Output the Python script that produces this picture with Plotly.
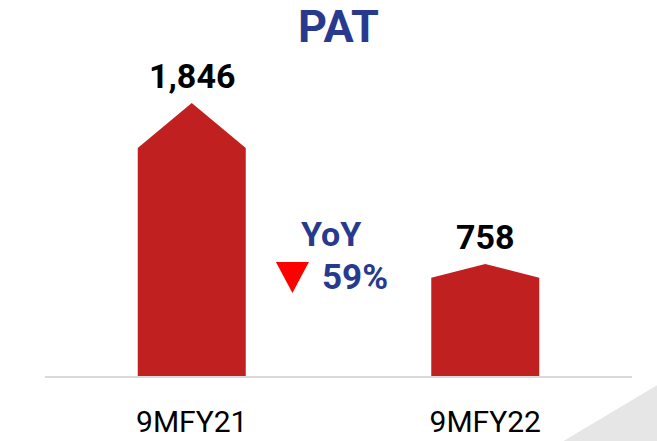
import plotly.graph_objects as go

periods = ["9MFY21", "9MFY22"]
pat = [1846, 758]
yoy_change = "59%"

BAR_RED = "#C0201F"
NAVY = "#283A8E"
HALF_W = 0.184
ROOF = [0.165, 0.124]  # roof height as share of bar height

fig = go.Figure()

for i, (name, val) in enumerate(zip(periods, pat)):
    shoulder = val * (1 - ROOF[i])
    fig.add_trace(
        go.Scatter(
            x=[i - HALF_W, i - HALF_W, i, i + HALF_W, i + HALF_W, i - HALF_W],
            y=[0, shoulder, val, shoulder, 0, 0],
            fill="toself",
            fillcolor=BAR_RED,
            line=dict(width=0, color=BAR_RED),
            mode="lines",
            name=name,
            hoverinfo="skip",
        )
    )
    fig.add_annotation(
        x=i,
        y=val,
        text=f"<b>{val:,}</b>",
        showarrow=False,
        yanchor="middle",
        yshift=27,
        font=dict(family="Roboto", size=34, color="black"),
    )

# YoY callout
fig.add_annotation(
    x=0.474, y=960, xref="x", yref="y",
    text="<b>YoY</b>", showarrow=False,
    font=dict(family="Roboto", size=34, color=NAVY),
)
fig.add_annotation(
    x=0.556, y=669, xref="x", yref="y",
    text=f"<b>{yoy_change}</b>", showarrow=False,
    font=dict(family="Roboto", size=35, color=NAVY),
)

fig.update_layout(
    width=657,
    height=441,
    margin=dict(l=45, r=25, t=60, b=65),
    paper_bgcolor="white",
    plot_bgcolor="white",
    showlegend=False,
    title=dict(
        text="<b>PAT</b>",
        x=0.5,
        xref="paper",
        xanchor="center",
        y=0.94,
        yanchor="middle",
        font=dict(family="Roboto", size=45, color=NAVY),
    ),
    xaxis=dict(
        range=[-0.5, 1.5],
        tickvals=[0, 1],
        ticktext=periods,
        showgrid=False,
        zeroline=False,
        showline=True,
        linecolor="#d9d9d9",
        linewidth=2,
        ticks="outside",
        ticklen=18,
        tickcolor="rgba(0,0,0,0)",
        tickfont=dict(family="Roboto", size=30, color="black"),
        automargin=False,
    ),
    yaxis=dict(
        range=[0, 2137],
        visible=False,
        showgrid=False,
        zeroline=False,
        automargin=False,
    ),
    shapes=[
        # red down arrow next to the YoY change
        dict(
            type="path",
            xref="x",
            yref="y",
            xsizemode="pixel",
            ysizemode="pixel",
            xanchor=0.343,
            yanchor=666,
            path="M -16.5 15.5 L 16.5 15.5 L 0 -15.5 Z",
            fillcolor="#FF0000",
            line=dict(width=0),
        ),
        # grey corner decoration
        dict(
            type="path",
            xref="paper",
            yref="paper",
            path="M 0.883 -0.206 L 1.043 -0.206 L 1.043 -0.0285 Z",
            fillcolor="#e6e6e6",
            line=dict(width=0),
            layer="below",
        ),
    ],
)

fig.write_html(
    "out.html",
    config={"displayModeBar": False},
    post_script="document.body.style.margin='0';document.body.style.overflow='hidden';",
)
